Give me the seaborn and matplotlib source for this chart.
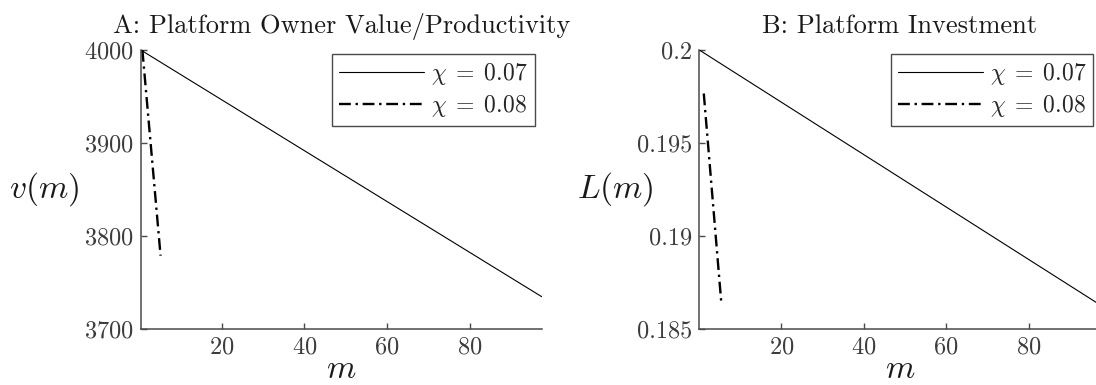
import seaborn as sns
import matplotlib.pyplot as plt
import pandas as pd

# values
m_a_07 = [0.4, 97.4]
v_07 = [4000, 3734.7]
m_a_08 = [0.8, 5.2]
v_08 = [4000, 3778.8]

m_b_07 = [0.1, 97.4]
L_07 = [0.2, 0.18629]
m_b_08 = [1.2, 5.5]
L_08 = [0.19766, 0.18628]

chi_labels = [r"$\chi\;=\;0.07$", r"$\chi\;=\;0.08$"]
x_ticks = [20, 40, 60, 80]
v_ticks = [3700, 3800, 3900, 4000]
L_ticks = [0.185, 0.19, 0.195, 0.2]
L_ticklabels = ["0.185", "0.19", "0.195", "0.2"]

sns.set_theme(style="ticks")
plt.rcParams["font.family"] = "serif"
plt.rcParams["font.serif"] = ["cmr10", "DejaVu Serif"]
plt.rcParams["mathtext.fontset"] = "cm"
plt.rcParams["axes.formatter.use_mathtext"] = True

gray = "#4a4a4a"
dashdot = (0, (5, 2, 1, 2))

fig = plt.figure(figsize=(10.96, 3.85), dpi=100)
ax1 = fig.add_axes([0.1284, 0.1455, 0.3659, 0.7247])
ax2 = fig.add_axes([0.638, 0.1455, 0.3659, 0.7247])

sns.lineplot(x=m_a_07, y=v_07, ax=ax1, color="black", lw=0.8, label=chi_labels[0])
sns.lineplot(x=m_a_08, y=v_08, ax=ax1, color="black", lw=1.7, linestyle=dashdot, label=chi_labels[1])
sns.lineplot(x=m_b_07, y=L_07, ax=ax2, color="black", lw=0.8, label=chi_labels[0])
sns.lineplot(x=m_b_08, y=L_08, ax=ax2, color="black", lw=1.7, linestyle=dashdot, label=chi_labels[1])

ax1.set_xlim(0.4, 97.4)
ax1.set_ylim(3700, 4000)
ax1.set_yticks(v_ticks)
ax2.set_xlim(0.1, 97.4)
ax2.set_ylim(0.185, 0.2)
ax2.set_yticks(L_ticks)
ax2.set_yticklabels(L_ticklabels)

for ax, title, ylab, ylx in [(ax1, "A: Platform Owner Value/Productivity", r"$v(m)$", -0.24),
                             (ax2, "B: Platform Investment", r"$L(m)$", -0.21)]:
    ax.set_xticks(x_ticks)
    ax.tick_params(direction="in", length=4, width=1, color=gray, labelcolor="#3c3c3c",
                   labelsize=17.5, pad=5)
    for s in ["top", "right"]:
        ax.spines[s].set_visible(False)
    for s in ["left", "bottom"]:
        ax.spines[s].set_color(gray)
        ax.spines[s].set_linewidth(1.1)
    ax.set_title(title, fontsize=19, color="#1a1a1a", pad=12)
    ax.set_xlabel(r"$m$", fontsize=24, color="#1a1a1a", labelpad=-2)
    ax.set_ylabel(ylab, fontsize=24, color="#1a1a1a", rotation=0, va="center", ha="center")
    ax.yaxis.set_label_coords(ylx, 0.5)
    leg = ax.legend(loc="upper right", bbox_to_anchor=(0.983, 0.985), fontsize=17,
                    frameon=True, fancybox=False, framealpha=1, edgecolor=gray,
                    handlelength=3.6, handletextpad=0.3, labelspacing=0.25,
                    borderpad=0.3, borderaxespad=0)
    leg.get_frame().set_linewidth(1.0)

fig.savefig("out.png", dpi=100)
